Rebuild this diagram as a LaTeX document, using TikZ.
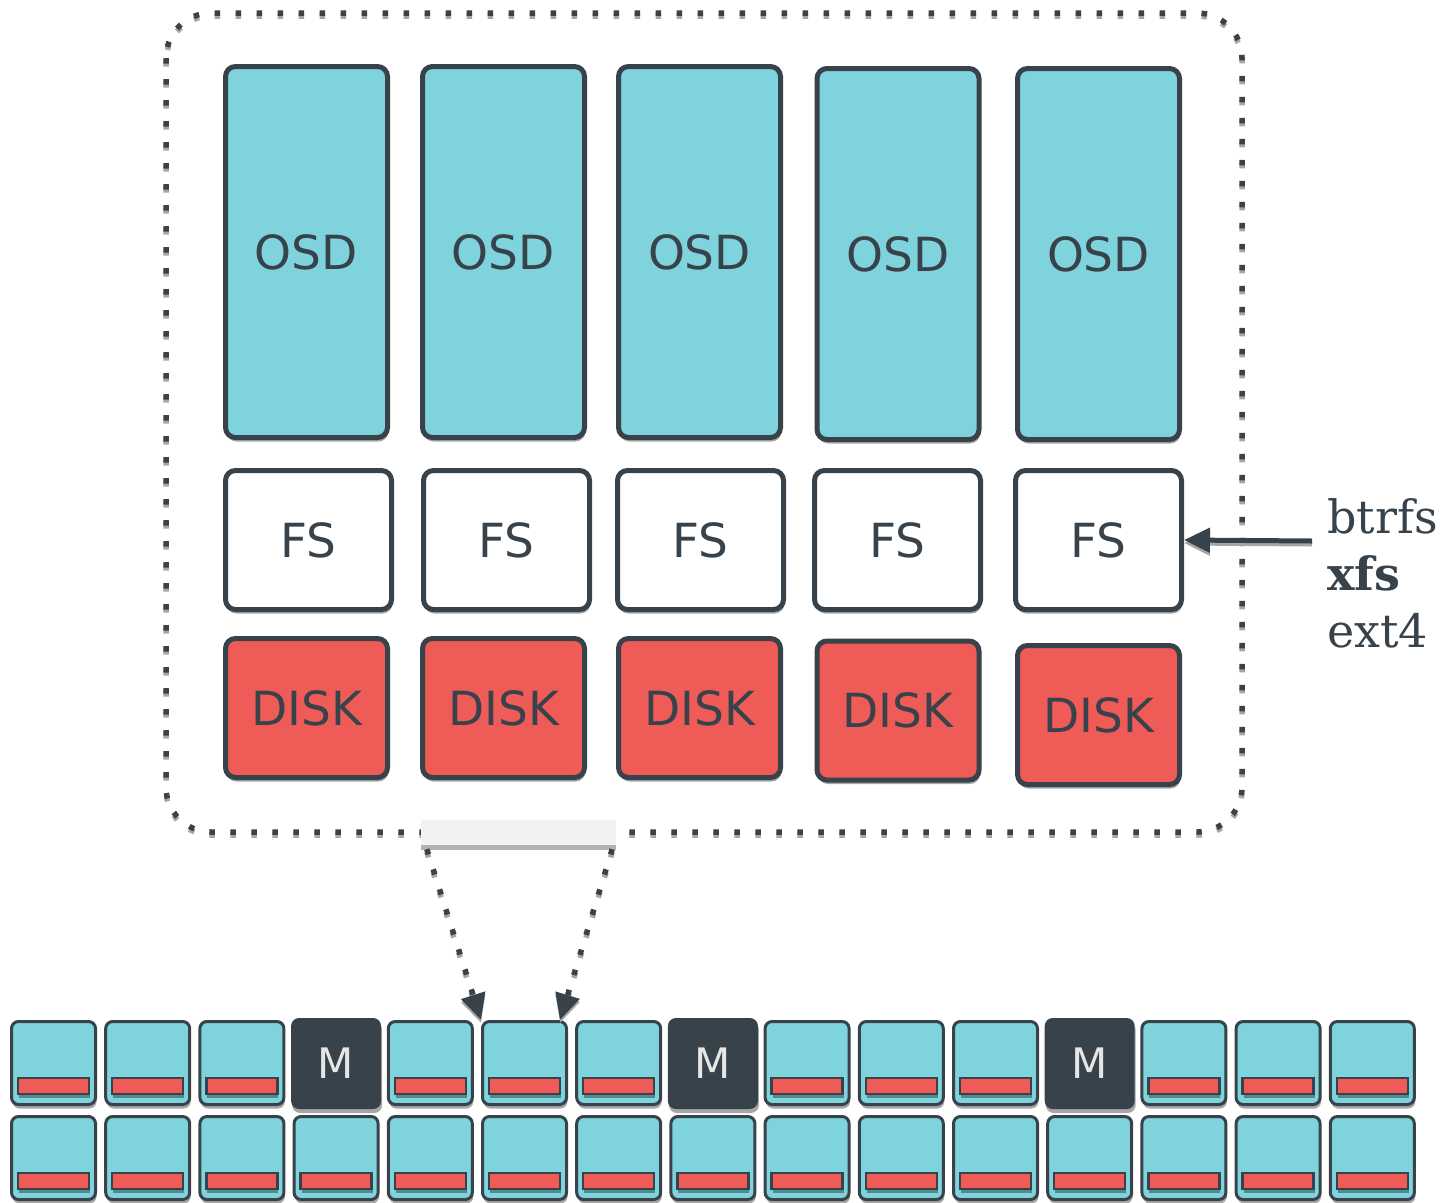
\documentclass[tikz,border=0pt]{standalone}
\usepackage{fontspec}
\setmainfont{DejaVu Serif}
\setsansfont{DejaVu Sans}
\usetikzlibrary{shadows,arrows.meta}
\definecolor{ink}{HTML}{37424A}
\definecolor{osdcol}{HTML}{7FD3DC}
\definecolor{diskred}{HTML}{EF5B56}
\definecolor{barcol}{HTML}{F2F2F2}
\definecolor{mtext}{HTML}{E6E6E6}
\definecolor{shadowgray}{HTML}{A6A6A6}
\begin{document}
\begin{tikzpicture}[x=1pt,y=-1pt,
  sh/.style={drop shadow={shadow xshift=1pt,shadow yshift=-4pt,fill=black,opacity=0.35}},
  box/.style={draw=ink, line width=5pt, rounded corners=10pt, sh, text=ink, inner sep=0pt,
    font=\sffamily\fontsize{47}{50}\selectfont},
  osd/.style={box, fill=osdcol, minimum width=162pt, minimum height=371pt},
  fsbox/.style={box, fill=white, minimum width=166pt, minimum height=139pt},
  disk/.style={box, fill=diskred, minimum width=162pt, minimum height=139pt},
  cell/.style={draw=ink, line width=3pt, rounded corners=7pt, fill=osdcol, sh,
    minimum width=84pt, minimum height=83pt, inner sep=0pt},
  mcell/.style={fill=ink, rounded corners=8pt, sh, minimum width=90pt, minimum height=91pt,
    inner sep=0pt, text=mtext, font=\sffamily\fontsize{42}{44}\selectfont},
  redbar/.style={draw=ink, line width=2.5pt, fill=diskred, sh, minimum width=71pt,
    minimum height=16pt, inner sep=0pt},
  dots/.style={line width=5.5pt, dash pattern=on 5.5pt off 15.5pt},
  fslabel/.style={anchor=base west, inner sep=0pt, text=ink, font=\fontsize{46}{57}\selectfont},
  tip/.style={-{Triangle[length=26pt,width=24pt]}},
  shadowcopy/.style={shadowgray, transform canvas={yshift=-3pt}}
]
\useasboundingbox (0,0) rectangle (1447,1202);

% dotted frame
\draw[dots, shadowgray, rounded corners=45pt] (166,16) rectangle (1242,835);
\draw[dots, ink, rounded corners=45pt] (166,13) rectangle (1242,832);

% OSD
\node[osd] (osd1) at (306.5,252) {OSD};
\node[osd] (osd2) at (503.5,252) {OSD};
\node[osd] (osd3) at (699.5,252) {OSD};
\node[osd] (osd4) at (898,254) {OSD};
\node[osd] (osd5) at (1098.5,254) {OSD};

% FS
\node[fsbox] (fs1) at (308.5,540) {FS};
\node[fsbox] (fs2) at (506.5,540) {FS};
\node[fsbox] (fs3) at (700.5,540) {FS};
\node[fsbox] (fs4) at (897.5,540) {FS};
\node[fsbox] (fs5) at (1098.5,540) {FS};

% DISK
\node[disk] (disk1) at (306.5,708) {DISK};
\node[disk] (disk2) at (503.5,708) {DISK};
\node[disk] (disk3) at (699.5,708) {DISK};
\node[disk] (disk4) at (898,710.5) {DISK};
\node[disk] (disk5) at (1098.5,715) {DISK};

% filesystem labels
\node[fslabel] (lbtrfs) at (1327,533) {btrfs};
\node[fslabel] (lxfs) at (1327,590) {\textbf{xfs}};
\node[fslabel] (lext4) at (1327,647) {ext4};
\coordinate (fsarrowstart) at (1312,541);
\draw[line width=5pt, tip, shadowcopy] (fsarrowstart) -- (fs5.east);
\draw[line width=5pt, tip, ink] (fsarrowstart) -- (fs5.east);

% bottom grid
\foreach \i in {1,...,15}{
  \pgfmathsetmacro\cx{53.5+(\i-1)*94.2}
  \pgfmathtruncatemacro\ism{(\i==4)||(\i==8)||(\i==12)}
  \ifnum\ism=1
    \node[mcell] (top-\i) at (\cx,1063.5) {M};
  \else
    \node[cell] (top-\i) at (\cx,1063) {};
    \node[redbar] (topbar-\i) at ([yshift=-23pt]top-\i.center) {};
  \fi
  \node[cell] (bot-\i) at (\cx,1158) {};
  \node[redbar] (botbar-\i) at ([yshift=-23pt]bot-\i.center) {};
}

% zoom bar and dotted arrows
\node[fill=barcol, minimum width=195pt, minimum height=25pt, inner sep=0pt,
  drop shadow={shadow xshift=0pt,shadow yshift=-5pt,fill=black,opacity=0.3}] (zoombar) at (518.5,832.5) {};
\coordinate (zl) at ([xshift=6pt,yshift=-4pt]zoombar.south west);
\coordinate (zr) at ([xshift=-4pt,yshift=-4pt]zoombar.south east);
\draw[dots, tip, shadowcopy] (zl) -- (top-6.north west);
\draw[dots, tip, shadowcopy] (zr) -- ([xshift=-8pt]top-6.north east);
\draw[dots, tip, ink] (zl) -- (top-6.north west);
\draw[dots, tip, ink] (zr) -- ([xshift=-8pt]top-6.north east);
\end{tikzpicture}
\end{document}
